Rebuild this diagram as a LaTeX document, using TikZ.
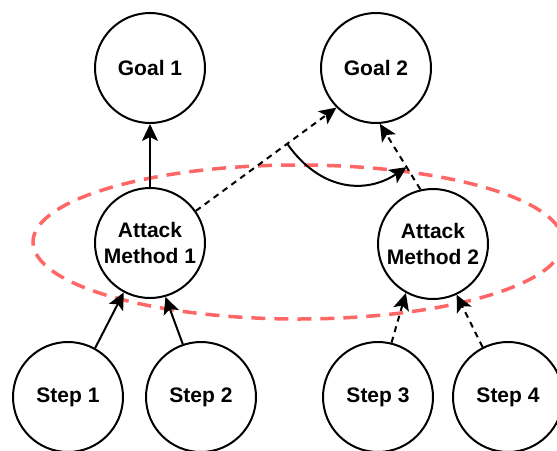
\documentclass[tikz,border=0pt]{standalone}
\usepackage{fontspec}
\setmainfont{Liberation Sans}
\usetikzlibrary{arrows.meta}
\definecolor{scopered}{RGB}{255,102,102}
\begin{document}
\begin{tikzpicture}[x=1pt,y=-1pt,
  state/.style={circle,draw=black,line width=2pt,fill=white,minimum size=110pt,
    inner sep=0pt,align=center,font=\fontsize{21}{26}\selectfont\bfseries},
  link/.style={line width=2pt,-{Stealth[length=17pt,width=16pt,inset=4pt,fill=black]}},
  weak/.style={link,dash pattern=on 6pt off 5pt},
  scope/.style={draw=scopered,line width=3.5pt,dash pattern=on 14pt off 9pt}]
\useasboundingbox (0,0) rectangle (557,450);
\begin{scope}
\clip (0,0) rectangle (557,450);
% grouping around the two attack methods
\draw[scope] (298,242) ellipse [x radius=265, y radius=77];

% goals
\node[state] (g1) at (150,68) {Goal 1};
\node[state] (g2) at (376,68) {Goal 2};
% attack methods
\node[state] (am1) at (150,243) {Attack\\Method 1};
\node[state] (am2) at (433,244) {Attack\\Method 2};
% steps
\node[state] (s1) at (68,397) {Step 1};
\node[state] (s2) at (201,397) {Step 2};
\node[state] (s3) at (378,397) {Step 3};
\node[state] (s4) at (508,397) {Step 4};

% connectors
\draw[link] (am1.north) -- (g1.south);
\draw[weak] (am1.35) -- (g2.225) coordinate[pos=0.65] (p1);
\draw[weak] (am2.103) -- (g2.274) coordinate[pos=0.34] (p2);
\draw[link] (p1) .. controls +(32,46) and +(-42,28) .. (p2);
\draw[link] (s1.61) -- (am1.242);
\draw[link] (s2.109) -- (am1.286);
\draw[weak] (s3.76) -- (am2.241);
\draw[weak] (s4.117) -- (am2.295);
\end{scope}
\end{tikzpicture}
\end{document}
